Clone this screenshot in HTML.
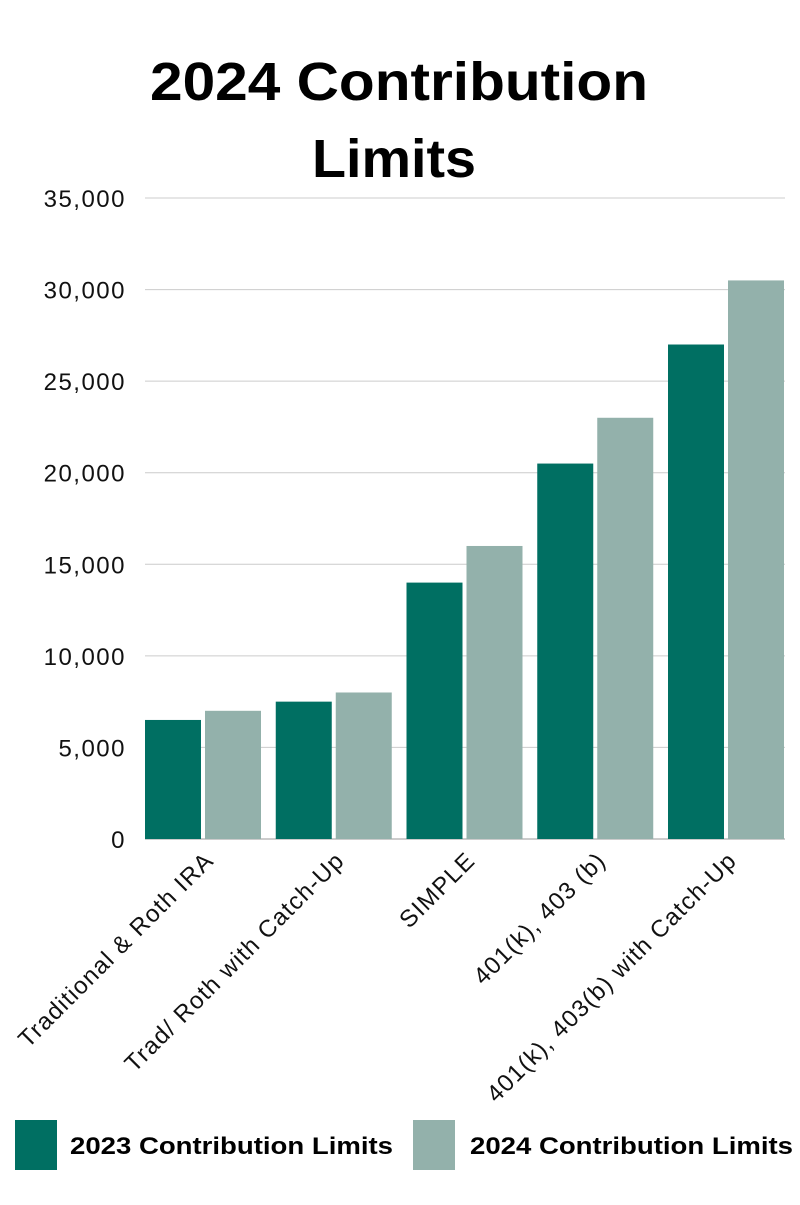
<!DOCTYPE html>
<html><head><meta charset="utf-8"><style>
body{margin:0;background:#fff;width:800px;height:1200px;overflow:hidden;font-family:"Liberation Sans",sans-serif}
</style></head><body>
<svg width="800" height="1200" xmlns="http://www.w3.org/2000/svg" font-family="Liberation Sans, sans-serif">
<text x="150" y="100" font-size="54" font-weight="bold" textLength="498" lengthAdjust="spacingAndGlyphs">2024 Contribution</text>
<text x="312" y="177" font-size="54" font-weight="bold" textLength="164" lengthAdjust="spacingAndGlyphs">Limits</text>
<g id="grid"></g><g id="bars"></g><g id="xl"></g>
<rect x="15" y="1120" width="42" height="50" fill="#006f62"/>
<text x="70" y="1154" font-size="24" font-weight="bold" textLength="323" lengthAdjust="spacingAndGlyphs">2023 Contribution Limits</text>
<rect x="413" y="1120" width="42" height="50" fill="#93b1ab"/>
<text x="470" y="1154" font-size="24" font-weight="bold" textLength="323" lengthAdjust="spacingAndGlyphs">2024 Contribution Limits</text>
</svg>
<script>
const categories=["Traditional & Roth IRA","Trad/ Roth with Catch-Up","SIMPLE","401(k), 403 (b)","401(k), 403(b) with Catch-Up"];
const values2023=[6500,7500,14000,20500,27000];
const values2024=[7000,8000,16000,23000,30500];
const ticks=[0,5000,10000,15000,20000,25000,30000,35000];
const tickLabels=["0","5,000","10,000","15,000","20,000","25,000","30,000","35,000"];
const NS="http://www.w3.org/2000/svg";
const y0=839,y1=198,maxV=35000,x0=145,x1=785;
const y=v=>y0-(v/maxV)*(y0-y1);
const gw=130.75;
const bw=56;
function mk(t,a,p){const e=document.createElementNS(NS,t);for(const k in a)e.setAttribute(k,a[k]);document.getElementById(p).appendChild(e);return e;}
ticks.forEach((t,i)=>{
 const l=mk('line',{x1:x0,x2:x1,y1:y(t),y2:y(t),stroke:t===0?'#999':'#ccc','stroke-width':1},'grid');
 
 
 const tx=mk('text',{x:126,y:y(t)+9,'text-anchor':'end','font-size':24,'letter-spacing':1.5,fill:'#111'},'grid');
 tx.textContent=tickLabels[i];
 
 
});
categories.forEach((c,i)=>{
 const gx=x0+i*gw;
 const b1=mk('rect',{x:gx,y:y(values2023[i]),width:bw,height:y0-y(values2023[i]),fill:'#006f62'},'bars');
 
 
 const b2=mk('rect',{x:gx+bw+4,y:y(values2024[i]),width:bw,height:y0-y(values2024[i]),fill:'#93b1ab'},'bars');
 
 
 const cx=gx+bw+14,cy=862;
 const t=mk('text',{x:cx,y:cy,'text-anchor':'end','font-size':24,'letter-spacing':1.2,fill:'#111',transform:`rotate(-45 ${cx} ${cy})`},'xl');
 t.textContent=c;
 
 
});
</script>
</body></html>
